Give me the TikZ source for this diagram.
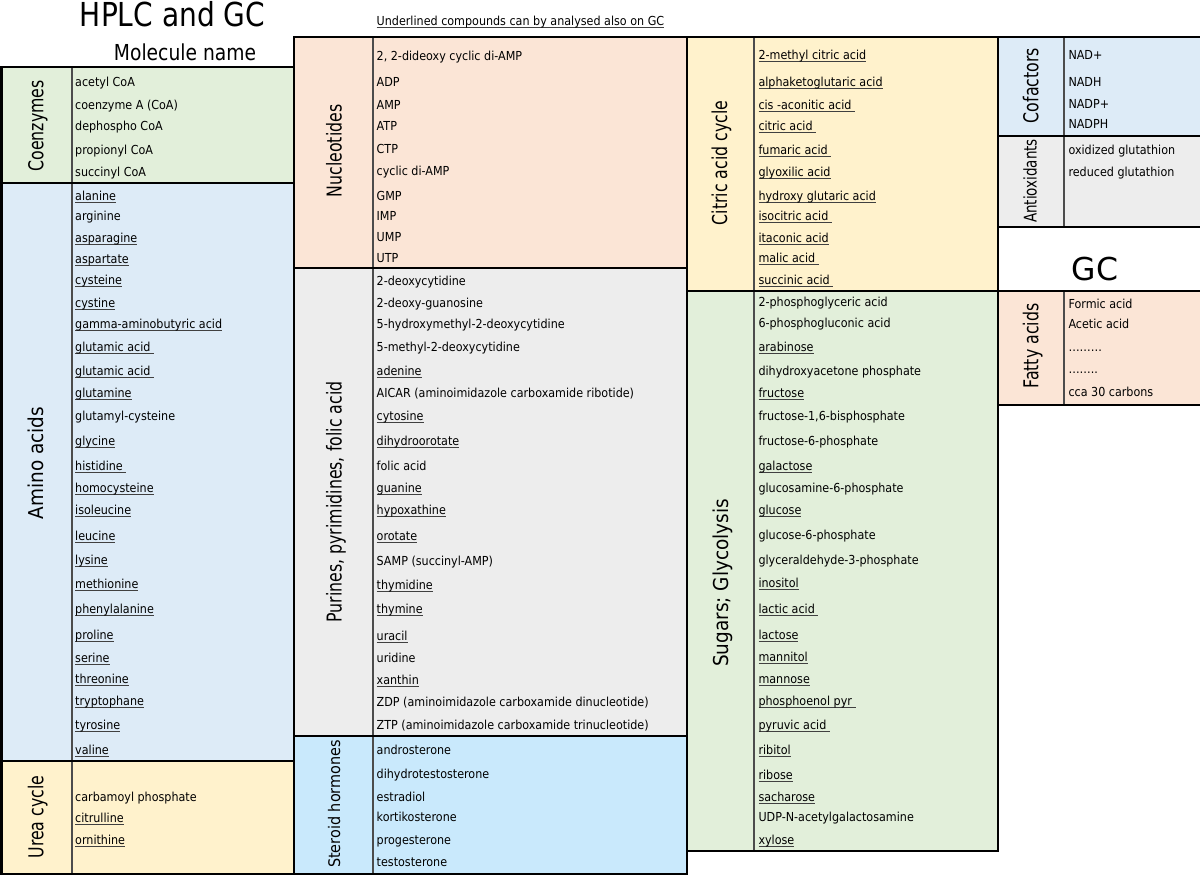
\documentclass[tikz,border=0pt]{standalone}
\usepackage{fontspec}
\usepackage{graphicx}
\setmainfont{DejaVu Sans}
\newfontfamily\bodyf{DejaVu Sans}[FakeStretch=0.9]
\newfontfamily\labf{DejaVu Sans}[FakeStretch=0.77]
\newfontfamily\titf{DejaVu Sans}[FakeStretch=0.85]
\definecolor{cgreen}{HTML}{E2EFDA}
\definecolor{cblue}{HTML}{DDEBF7}
\definecolor{cyellow}{HTML}{FFF2CC}
\definecolor{csalmon}{HTML}{FBE5D6}
\definecolor{cgray}{HTML}{EDEDED}
\definecolor{csky}{HTML}{C9E9FC}
\definecolor{ulcol}{HTML}{404040}
\newsavebox\ulbox
\newcommand\und[1]{\sbox\ulbox{#1}\rlap{\color{ulcol}\rule[-2.3pt]{\wd\ulbox}{0.8pt}}\usebox\ulbox}
\begin{document}
\begin{tikzpicture}[x=1pt,y=-1pt,
  itm/.style={anchor=base west, inner sep=0pt, font=\bodyf\fontsize{12.4}{14}\selectfont},
  lab/.style={anchor=base, rotate=90, inner sep=0pt, font=\labf\fontsize{20.5}{22}\selectfont},
  labw/.style={lab, font=\bodyf\fontsize{20.5}{22}\selectfont},
  frame/.style={line width=2.6pt, draw=black},
  divider/.style={line width=1.6pt, draw=black!70}]
\useasboundingbox (0,0) rectangle (1200,876);
\fill[white] (0,0) rectangle (1200,876);
% fills
\fill[cgreen] (1.5,67) rectangle (294,183);
\fill[cblue] (1.5,183) rectangle (294,761);
\fill[cyellow] (1.5,761) rectangle (294,874);
\fill[csalmon] (294,37) rectangle (687,268);
\fill[cgray] (294,268) rectangle (687,736);
\fill[csky] (294,736) rectangle (687,874);
\fill[cyellow] (687,37) rectangle (998,291);
\fill[cgreen] (687,291) rectangle (998,851);
\fill[cblue] (998,37) rectangle (1203,136);
\fill[cgray] (998,136) rectangle (1203,227);
\fill[csalmon] (998,291) rectangle (1203,405);
% dividers
\draw[divider] (72,67) -- (72,874);
\draw[divider] (373,37) -- (373,874);
\draw[divider] (754,37) -- (754,851);
\draw[divider] (1064,37) -- (1064,227);
\draw[divider] (1064,291) -- (1064,405);
% frames
\draw[frame] (1.5,67) rectangle (294,874);
\draw[frame] (1.5,183) -- (294,183);
\draw[frame] (1.5,761) -- (294,761);
\draw[frame] (294,37) rectangle (687,874);
\draw[frame] (294,268) -- (687,268);
\draw[frame] (294,736) -- (687,736);
\draw[frame] (687,37) rectangle (998,851);
\draw[frame] (687,291) -- (998,291);
\draw[frame] (998,37) rectangle (1203,227);
\draw[frame] (998,136) -- (1203,136);
\draw[frame] (998,291) rectangle (1203,405);
% titles
\node[anchor=base, inner sep=0pt, font=\titf\fontsize{33}{36}\selectfont] (hplc) at (172.5,26) {HPLC and GC};
\node[anchor=base, inner sep=0pt, font=\titf\fontsize{22}{24}\selectfont] (molname) at (185,60) {Molecule name};
\node[itm] (note) at (376.5,25) {\und{Underlined compounds can by analysed also on GC}};
\node[anchor=base, inner sep=0pt, font=\fontsize{31.5}{34}\selectfont] (gc) at (1095,280) {GC};
% group labels
\node[lab] (lcoenz) at (43.3,126) {Coenzymes};
\node[labw] (lamino) at (43.3,463) {Amino acids};
\node[lab] (lurea) at (43.3,817) {Urea cycle};
\node[lab] (lnucl) at (341.7,151) {Nucleotides};
\node[lab] (lpur) at (341.7,502) {Purines, pyrimidines, folic acid};
\node[lab, font=\bodyf\fontsize{16}{18}\selectfont] (lster) at (340,804) {Steroid hormones};
\node[lab] (lcit) at (727,163) {Citric acid cycle};
\node[labw] (lsug) at (728,583) {Sugars; Glycolysis};
\node[lab] (lcof) at (1038.3,85.5) {Cofactors};
\node[lab, font=\labf\fontsize{17.5}{19}\selectfont] (lanti) at (1036.7,181) {Antioxidants};
\node[lab] (lfat) at (1038.3,346) {Fatty acids};
% coenzymes
\node[itm] (c1) at (75,86) {acetyl CoA};
\node[itm] (c2) at (75,109.3) {coenzyme A (CoA)};
\node[itm] (c3) at (75,130) {dephospho CoA};
\node[itm] (c4) at (75,154) {propionyl CoA};
\node[itm] (c5) at (75,176) {succinyl CoA};
% amino acids
\node[itm] (a1) at (75,200.7) {\und{alanine}};
\node[itm] (a2) at (75,220.7) {arginine};
\node[itm] (a3) at (75,242.7) {\und{asparagine}};
\node[itm] (a4) at (75,263.3) {\und{aspartate}};
\node[itm] (a5) at (75,284.3) {\und{cysteine}};
\node[itm] (a6) at (75,307.7) {\und{cystine}};
\node[itm] (a7) at (75,328.3) {\und{gamma-aminobutyric acid}};
\node[itm] (a8) at (75,351) {\und{glutamic acid\ }};
\node[itm] (a9) at (75,375) {\und{glutamic acid\ }};
\node[itm] (a10) at (75,397.3) {\und{glutamine}};
\node[itm] (a11) at (75,420.7) {glutamyl-cysteine};
\node[itm] (a12) at (75,445) {\und{glycine}};
\node[itm] (a13) at (75,470) {\und{histidine\ }};
\node[itm] (a14) at (75,492.3) {\und{homocysteine}};
\node[itm] (a15) at (75,514) {\und{isoleucine}};
\node[itm] (a16) at (75,540) {\und{leucine}};
\node[itm] (a17) at (75,564.3) {\und{lysine}};
\node[itm] (a18) at (75,588.3) {\und{methionine}};
\node[itm] (a19) at (75,613.3) {\und{phenylalanine}};
\node[itm] (a20) at (75,639.3) {\und{proline}};
\node[itm] (a21) at (75,662) {\und{serine}};
\node[itm] (a22) at (75,683.3) {\und{threonine}};
\node[itm] (a23) at (75,705) {\und{tryptophane}};
\node[itm] (a24) at (75,729) {\und{tyrosine}};
\node[itm] (a25) at (75,754) {\und{valine}};
% urea cycle
\node[itm] (u1) at (75,801) {carbamoyl phosphate};
\node[itm] (u2) at (75,822.3) {\und{citrulline}};
\node[itm] (u3) at (75,844) {\und{ornithine}};
% nucleotides
\node[itm] (n1) at (376.5,60) {2, 2-dideoxy cyclic di-AMP};
\node[itm] (n2) at (376.5,86.7) {ADP};
\node[itm] (n3) at (376.5,109.3) {AMP};
\node[itm] (n4) at (376.5,130) {ATP};
\node[itm] (n5) at (376.5,153) {CTP};
\node[itm] (n6) at (376.5,175.5) {cyclic di-AMP};
\node[itm] (n7) at (376.5,200.5) {GMP};
\node[itm] (n8) at (376.5,220.5) {IMP};
\node[itm] (n9) at (376.5,241.5) {UMP};
\node[itm] (n10) at (376.5,262.5) {UTP};
% purines
\node[itm] (p1) at (376.5,285) {2-deoxycytidine};
\node[itm] (p2) at (376.5,307.7) {2-deoxy-guanosine};
\node[itm] (p3) at (376.5,328.3) {5-hydroxymethyl-2-deoxycytidine};
\node[itm] (p4) at (376.5,351.7) {5-methyl-2-deoxycytidine};
\node[itm] (p5) at (376.5,375) {\und{adenine}};
\node[itm] (p6) at (376.5,397.7) {AICAR (aminoimidazole carboxamide ribotide)};
\node[itm] (p7) at (376.5,420.7) {\und{cytosine}};
\node[itm] (p8) at (376.5,445.7) {\und{dihydroorotate}};
\node[itm] (p9) at (376.5,470.7) {folic acid};
\node[itm] (p10) at (376.5,492.3) {\und{guanine}};
\node[itm] (p11) at (376.5,514.3) {\und{hypoxathine}};
\node[itm] (p12) at (376.5,540) {\und{orotate}};
\node[itm] (p13) at (376.5,565) {SAMP (succinyl-AMP)};
\node[itm] (p14) at (376.5,589) {\und{thymidine}};
\node[itm] (p15) at (376.5,613.3) {\und{thymine}};
\node[itm] (p16) at (376.5,640) {\und{uracil}};
\node[itm] (p17) at (376.5,662.3) {uridine};
\node[itm] (p18) at (376.5,684.3) {\und{xanthin}};
\node[itm] (p19) at (376.5,706) {ZDP (aminoimidazole carboxamide dinucleotide)};
\node[itm] (p20) at (376.5,729.3) {ZTP (aminoimidazole carboxamide trinucleotide)};
% steroid hormones
\node[itm] (s1) at (376.5,754.3) {androsterone};
\node[itm] (s2) at (376.5,778.3) {dihydrotestosterone};
\node[itm] (s3) at (376.5,801) {estradiol};
\node[itm] (s4) at (376.5,821.7) {kortikosterone};
\node[itm] (s5) at (376.5,844) {progesterone};
\node[itm] (s6) at (376.5,866.7) {testosterone};
% citric acid cycle
\node[itm] (t1) at (758.3,59.3) {\und{2-methyl citric acid}};
\node[itm] (t2) at (758.3,86.7) {\und{alphaketoglutaric acid}};
\node[itm] (t3) at (758.3,109) {\und{cis -aconitic acid\ }};
\node[itm] (t4) at (758.3,130) {\und{citric acid\ }};
\node[itm] (t5) at (758.3,154.3) {\und{fumaric acid\ }};
\node[itm] (t6) at (758.3,176.7) {\und{glyoxilic acid}};
\node[itm] (t7) at (758.3,200) {\und{hydroxy glutaric acid}};
\node[itm] (t8) at (758.3,220) {\und{isocitric acid\ }};
\node[itm] (t9) at (758.3,242.7) {\und{itaconic acid}};
\node[itm] (t10) at (758.3,262.7) {\und{malic acid\ }};
\node[itm] (t11) at (758.3,284.3) {\und{succinic acid\ }};
% sugars
\node[itm] (g1) at (758.3,306.7) {2-phosphoglyceric acid};
\node[itm] (g2) at (758.3,327.3) {6-phosphogluconic acid};
\node[itm] (g3) at (758.3,351.7) {\und{arabinose}};
\node[itm] (g4) at (758.3,375) {dihydroxyacetone phosphate};
\node[itm] (g5) at (758.3,397.3) {\und{fructose}};
\node[itm] (g6) at (758.3,420.7) {fructose-1,6-bisphosphate};
\node[itm] (g7) at (758.3,445) {fructose-6-phosphate};
\node[itm] (g8) at (758.3,470) {\und{galactose}};
\node[itm] (g9) at (758.3,492.3) {glucosamine-6-phosphate};
\node[itm] (g10) at (758.3,514) {\und{glucose}};
\node[itm] (g11) at (758.3,539.3) {glucose-6-phosphate};
\node[itm] (g12) at (758.3,564.3) {glyceraldehyde-3-phosphate};
\node[itm] (g13) at (758.3,587.7) {\und{inositol}};
\node[itm] (g14) at (758.3,613.5) {\und{lactic acid\ }};
\node[itm] (g15) at (758.3,639.5) {\und{lactose}};
\node[itm] (g16) at (758.3,661.5) {\und{mannitol}};
\node[itm] (g17) at (758.3,683.5) {\und{mannose}};
\node[itm] (g18) at (758.3,705.5) {\und{phosphoenol pyr\ }};
\node[itm] (g19) at (758.3,729.3) {\und{pyruvic acid\ }};
\node[itm] (g20) at (758.3,754) {\und{ribitol}};
\node[itm] (g21) at (758.3,779) {\und{ribose}};
\node[itm] (g22) at (758.3,801) {\und{sacharose}};
\node[itm] (g23) at (758.3,821.7) {UDP-N-acetylgalactosamine};
\node[itm] (g24) at (758.3,844) {\und{xylose}};
% cofactors
\node[itm] (f1) at (1068.3,59.3) {NAD+};
\node[itm] (f2) at (1068.3,86) {NADH};
\node[itm] (f3) at (1068.3,108.3) {NADP+};
\node[itm] (f4) at (1068.3,128.3) {NADPH};
% antioxidants
\node[itm] (o1) at (1068.3,154) {oxidized glutathion};
\node[itm] (o2) at (1068.3,176) {reduced glutathion};
% fatty acids
\node[itm] (fa1) at (1068.3,308.3) {Formic acid};
\node[itm] (fa2) at (1068.3,328.3) {Acetic acid};
\node[itm] (fa3) at (1068.3,351.7) {………};
\node[itm] (fa4) at (1068.3,373.3) {……..};
\node[itm] (fa5) at (1068.3,396.7) {cca 30 carbons};
\end{tikzpicture}
\end{document}
